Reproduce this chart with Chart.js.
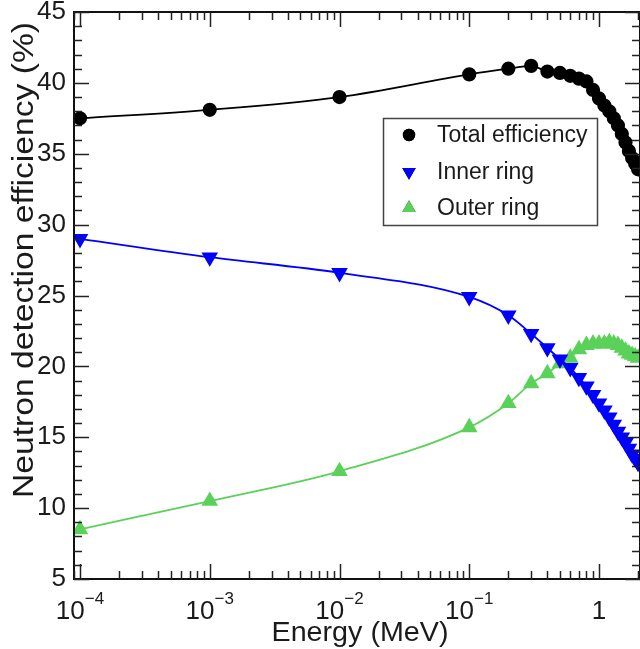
<!DOCTYPE html>
<html lang="en">
<head>
    <meta charset="UTF-8">
    <title>Neutron detection efficiency</title>
    <script src="https://cdn.jsdelivr.net/npm/chart.js"></script>
    <style>
        body { margin: 0; background: #fff; }
        canvas { display: block; }
    </style>
</head>
<body>
    <canvas id="myChart" width="640" height="649"></canvas>

<script>
    // energy points (MeV) and efficiencies (%)
    const energy = [1e-4, 1e-3, 1e-2, 0.1, 0.2, 0.3, 0.4, 0.5, 0.6, 0.7, 0.8, 0.9, 1.0,
        1.1, 1.2, 1.3, 1.4, 1.5, 1.6, 1.7, 1.8, 1.9, 2.0];
    const totalEff = [37.5, 38.1, 39.0, 40.6, 41.0, 41.2, 40.8, 40.7, 40.5, 40.3, 40.1, 39.5, 38.9,
        38.4, 38.0, 37.5, 37.0, 36.4, 35.8, 35.2, 34.7, 34.3, 33.9];
    const innerRing = [29.0, 27.7, 26.6, 24.9, 23.6, 22.3, 21.3, 20.5, 19.9, 19.2, 18.6, 18.0, 17.4,
        16.9, 16.4, 15.9, 15.4, 15.0, 14.6, 14.2, 13.8, 13.5, 13.2];
    const outerRing = [8.5, 10.5, 12.6, 15.7, 17.4, 18.8, 19.5, 20.2, 20.6, 21.2, 21.5, 21.6, 21.6,
        21.6, 21.7, 21.6, 21.5, 21.3, 21.1, 20.9, 20.8, 20.7, 20.6];

    const seriesNames = ['Total efficiency', 'Inner ring', 'Outer ring'];
    const xDecades = [-4, -3, -2, -1, 0];
    const yTicks = [5, 10, 15, 20, 25, 30, 35, 40, 45];

    const fontName = '"Liberation Sans", Arial, Helvetica, sans-serif';

    function pontos(valores) {
        let lista = [];
        for (let i = 0; i < energy.length; i++) {
            lista.push({ x: energy[i], y: valores[i] });
        }
        return lista;
    }

    // texto esticado para caber num comprimento dado
    function textoEsticado(c, texto, cx, cy, ang, tamanho, comprimento) {
        c.save();
        c.font = tamanho + 'px ' + fontName;
        const w = c.measureText(texto).width;
        c.translate(cx, cy);
        c.rotate(ang);
        c.scale(comprimento / w, 1);
        c.textAlign = 'center';
        c.textBaseline = 'alphabetic';
        c.fillText(texto, 0, 0);
        c.restore();
    }

    // frame, inward ticks, x labels with exponents, titles and the boxed legend
    const moldura = {
        id: 'moldura',
        beforeDraw(chart) {
            const c = chart.ctx;
            c.save();
            c.fillStyle = '#fff';
            c.fillRect(0, 0, chart.width, chart.height);
            c.restore();
        },
        afterDraw(chart) {
            const c = chart.ctx;
            const a = chart.chartArea;
            const xs = chart.scales.x;
            const ys = chart.scales.y;
            c.save();

            c.strokeStyle = '#111';
            c.lineWidth = 2;
            c.strokeRect(a.left, a.top, a.right - a.left, a.bottom - a.top);

            c.lineWidth = 1.5;
            c.strokeStyle = '#222';
            c.beginPath();
            // x ticks, bottom and top
            for (let d = -5; d <= 0; d++) {
                for (let m = 1; m <= 9; m++) {
                    const v = m * Math.pow(10, d);
                    if (v < xs.min || v > xs.max) continue;
                    const px = Math.round(xs.getPixelForValue(v)) + 0.5;
                    const len = m === 1 ? 15 : 8;
                    c.moveTo(px, a.bottom);
                    c.lineTo(px, a.bottom - len);
                    c.moveTo(px, a.top);
                    c.lineTo(px, a.top + len);
                }
            }
            // y ticks, left and right
            for (let v = 5; v <= 45; v++) {
                const py = Math.round(ys.getPixelForValue(v)) + 0.5;
                const len = v % 5 === 0 ? 15 : 8;
                c.moveTo(a.left, py);
                c.lineTo(a.left + len, py);
                c.moveTo(a.right, py);
                c.lineTo(a.right - len, py);
            }
            c.stroke();

            // x labels 10^n
            c.fillStyle = '#1a1a1a';
            c.textBaseline = 'alphabetic';
            c.textAlign = 'left';
            xDecades.forEach(function (d) {
                const px = xs.getPixelForValue(Math.pow(10, d));
                c.font = '26px ' + fontName;
                if (d === 0) {
                    const w = c.measureText('1').width;
                    c.fillText('1', px - w / 2, 619);
                    return;
                }
                const wBase = c.measureText('10').width;
                c.font = '17px ' + fontName;
                const exp = '\u2212' + Math.abs(d);
                const wExp = c.measureText(exp).width;
                const x0 = px - (wBase + wExp) / 2;
                c.font = '26px ' + fontName;
                c.fillText('10', x0, 619);
                c.font = '17px ' + fontName;
                c.fillText(exp, x0 + wBase, 604);
            });

            // axis titles
            textoEsticado(c, 'Energy (MeV)', 360, 641, 0, 28, 177);
            textoEsticado(c, 'Neutron detection efficiency (%)', 33, 260, -Math.PI / 2, 29, 476);

            // legend box
            c.strokeStyle = '#444';
            c.lineWidth = 1.5;
            c.strokeRect(383.5, 118.5, 214, 107);
            c.font = '23px ' + fontName;
            c.textAlign = 'left';
            c.textBaseline = 'middle';
            const linhas = [135, 172, 208];
            chart.data.datasets.forEach(function (ds, i) {
                Chart.helpers.drawPoint(c, {
                    pointStyle: ds.pointStyle,
                    rotation: ds.pointRotation || 0,
                    radius: ds.pointRadius,
                    borderWidth: 0
                }, 409, linhas[i]);
                c.fillStyle = ds.pointBackgroundColor;
                c.fill();
                c.fillStyle = '#1a1a1a';
                c.fillText(ds.label, 437, linhas[i] + 1);
            });

            c.restore();
        }
    };

    const ctx = document.getElementById('myChart');

    new Chart(ctx, {
        type: 'line',
        data: {
            datasets: [{
                label: seriesNames[0],
                data: pontos(totalEff),
                borderColor: '#000',
                backgroundColor: '#000',
                pointBackgroundColor: '#000',
                pointBorderColor: '#000',
                pointStyle: 'circle',
                pointRadius: 6.2,
                borderWidth: 1.8,
                cubicInterpolationMode: 'monotone'
            }, {
                label: seriesNames[1],
                data: pontos(innerRing),
                borderColor: '#0000ff',
                backgroundColor: '#0000ff',
                pointBackgroundColor: '#0000ff',
                pointBorderColor: '#0000ff',
                pointStyle: 'triangle',
                pointRotation: 180,
                pointRadius: 7.8,
                borderWidth: 1.8,
                cubicInterpolationMode: 'monotone'
            }, {
                label: seriesNames[2],
                data: pontos(outerRing),
                borderColor: '#5ad25a',
                backgroundColor: '#5ad25a',
                pointBackgroundColor: '#5ad25a',
                pointBorderColor: '#5ad25a',
                pointStyle: 'triangle',
                pointRadius: 7.8,
                borderWidth: 1.8,
                cubicInterpolationMode: 'monotone'
            }]
        },
        options: {
            responsive: false,
            animation: false,
            devicePixelRatio: 1,
            layout: { autoPadding: false, padding: { top: 12, right: 0, left: 0, bottom: 0 } },
            plugins: {
                legend: { display: false },
                tooltip: { enabled: false }
            },
            scales: {
                x: {
                    type: 'logarithmic',
                    min: 0.899e-4,
                    max: 2.07,
                    grid: { display: false },
                    border: { display: false },
                    ticks: { display: false },
                    afterFit: function (s) {
                        s.height = 70;
                        s.paddingLeft = 0;
                        s.paddingRight = 0;
                    }
                },
                y: {
                    min: 5,
                    max: 45,
                    grid: { display: false, drawTicks: false },
                    border: { display: false },
                    afterBuildTicks: function (s) {
                        s.ticks = yTicks.map(function (v) { return { value: v }; });
                    },
                    ticks: {
                        color: '#1a1a1a',
                        padding: 8,
                        font: { size: 26, family: fontName }
                    },
                    afterFit: function (s) {
                        s.width = 74;
                        s.paddingTop = 0;
                        s.paddingBottom = 0;
                    }
                }
            }
        },
        plugins: [moldura]
    });
</script>
</body>
</html>
